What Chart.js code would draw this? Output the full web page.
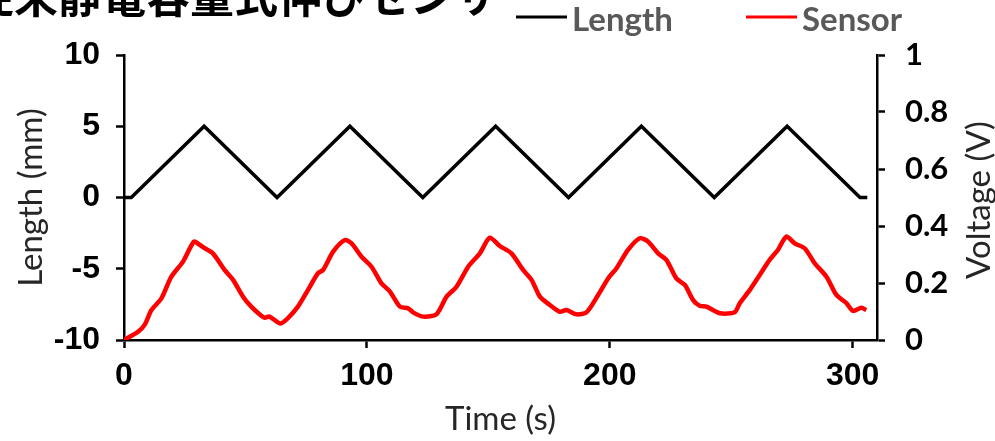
<!DOCTYPE html>
<html>
<head>
<meta charset="utf-8">
<script src="https://cdn.jsdelivr.net/npm/chart.js@4"></script>
<style>
  html, body { margin: 0; padding: 0; background: #fff; }
  #wrap { position: relative; width: 995px; height: 441px; }
</style>
</head>
<body>
<div id="wrap"><canvas id="sensorChart"></canvas></div>
<script>
// data
const chartTitle = "従来静電容量式伸びセンサ";
const timeTicks = [0, 100, 200, 300];
const lengthTicks = [-10, -5, 0, 5, 10];
const voltTicks = [0, 0.2, 0.4, 0.6, 0.8, 1];
const lengthTime = [0, 3, 33, 63, 93, 123, 153, 183, 213, 243, 273, 303, 306];
const lengthMm = [0, 0, 5, 0, 5, 0, 5, 0, 5, 0, 5, 0, 0];
const sensorTime = [
  0, 2, 5.8, 8.5, 11.3, 15.4, 19.5, 24.3, 28.8, 31, 33.2, 36.6, 41.4, 44.9, 49, 52.4,
  56.5, 58, 59.9, 64.3, 67.4, 71.6, 75.7, 79.8, 82, 86.1, 90.9, 93.7, 97.8, 101.9, 106,
  109.5, 113.6, 117, 119, 123.2, 128.6, 132.8, 136.9, 141.7, 146.5, 150.6, 154.7, 159.5,
  164.3, 167.8, 171.2, 175.3, 179.4, 182.2, 186.3, 190.4, 195.2, 199.3, 202.7, 207.5,
  212.3, 215.8, 219.9, 223.3, 227.4, 230.9, 234.3, 237, 239.8, 245.3, 251.4, 253.5,
  257.6, 261.7, 265.8, 269.2, 272.7, 276.1, 280.2, 284.4, 289.2, 293.3, 297.4, 300.1,
  303.6, 305.6
];
const sensorVolt = [
  0, 0.01, 0.029, 0.053, 0.105, 0.146, 0.222, 0.275, 0.345, 0.335, 0.322, 0.304, 0.246, 0.211, 0.152, 0.117,
  0.085, 0.078, 0.082, 0.058, 0.076, 0.117, 0.175, 0.234, 0.246, 0.31, 0.351, 0.339, 0.292, 0.257, 0.199,
  0.17, 0.117, 0.111, 0.097, 0.082, 0.09, 0.152, 0.187, 0.257, 0.304, 0.359, 0.33, 0.304,
  0.246, 0.211, 0.152, 0.123, 0.099, 0.105, 0.09, 0.097, 0.158, 0.216, 0.251, 0.316,
  0.357, 0.345, 0.304, 0.281, 0.216, 0.193, 0.14, 0.12, 0.117, 0.094, 0.097, 0.129,
  0.175, 0.228, 0.281, 0.316, 0.363, 0.339, 0.322, 0.269, 0.222, 0.158, 0.129, 0.102,
  0.113, 0.105
];

// title, legend and right axis title drawn by hand
const extrasPlugin = {
  id: 'extras',
  afterDraw(chart) {
    const ctx = chart.ctx;
    ctx.save();
    ctx.fillStyle = '#000';
    ctx.textAlign = 'left';
    ctx.textBaseline = 'alphabetic';
    ctx.font = 'bold 44px "Noto Sans CJK JP"';
    ctx.fillText(chartTitle, -30, 13);

    const items = [[516, 572], [746, 802]];
    chart.data.datasets.forEach((ds, i) => {
      const [lx, tx] = items[i];
      ctx.strokeStyle = ds.borderColor;
      ctx.lineWidth = 3;
      ctx.beginPath();
      ctx.moveTo(lx, 17);
      ctx.lineTo(lx + 51, 17);
      ctx.stroke();
      ctx.fillStyle = '#595959';
      ctx.font = 'bold 33px Lato';
      ctx.fillText(ds.label, tx, 31);
    });

    ctx.fillStyle = '#262626';
    ctx.font = '33px Lato';
    ctx.translate(979, 200);
    ctx.rotate(-Math.PI / 2);
    ctx.textAlign = 'center';
    ctx.textBaseline = 'middle';
    ctx.fillText('Voltage (V)', 0, 0);
    ctx.restore();
  }
};

const axisGrid = {
  drawOnChartArea: false,
  drawTicks: true,
  tickLength: 8,
  tickColor: '#000',
  tickWidth: 2.5
};
const axisBorder = { display: true, color: '#000', width: 2.5 };
const fixTicks = (values) => (scale) => {
  scale.ticks = values.map(v => ({ value: v }));
};
const plainLabel = (v) => String(Number(v.toFixed(2)));

const config = {
  type: 'line',
  data: {
    datasets: [{
      label: 'Length',
      data: lengthTime.map((t, i) => ({ x: t, y: lengthMm[i] })),
      borderColor: '#000000',
      borderWidth: 3.5,
      pointRadius: 0,
      tension: 0,
      yAxisID: 'y'
    }, {
      label: 'Sensor',
      data: sensorTime.map((t, i) => ({ x: t, y: sensorVolt[i] })),
      borderColor: '#ff0000',
      borderWidth: 4.5,
      pointRadius: 0,
      tension: 0.25,
      yAxisID: 'y1'
    }]
  },
  options: {
    responsive: true,
    maintainAspectRatio: false,
    animation: false,
    layout: { padding: { top: 55, left: 0, right: 0, bottom: 0 } },
    plugins: {
      legend: { display: false },
      tooltip: { enabled: false }
    },
    scales: {
      x: {
        type: 'linear',
        min: 0,
        max: 310,
        afterFit: (s) => { s.height = 101; },
        afterBuildTicks: fixTicks(timeTicks),
        ticks: {
          color: '#000',
          padding: 9,
          autoSkip: false,
          maxRotation: 0,
          callback: plainLabel,
          font: { family: '"Liberation Sans"', size: 32, weight: 'bold' }
        },
        grid: axisGrid,
        border: axisBorder,
        title: {
          display: true,
          text: 'Time (s)',
          color: '#262626',
          padding: { top: 0, bottom: 5 },
          font: { family: 'Lato', size: 33, lineHeight: 1 }
        }
      },
      y: {
        position: 'left',
        min: -10,
        max: 10,
        afterFit: (s) => { s.width = 124; },
        afterBuildTicks: fixTicks(lengthTicks),
        ticks: {
          color: '#000',
          padding: 16,
          autoSkip: false,
          callback: plainLabel,
          font: { family: '"Liberation Sans"', size: 32, weight: 'bold' }
        },
        grid: axisGrid,
        border: axisBorder,
        title: {
          display: true,
          text: 'Length (mm)',
          color: '#262626',
          padding: { top: 15, bottom: 0 },
          font: { family: 'Lato', size: 33, lineHeight: 1 }
        }
      },
      y1: {
        position: 'right',
        min: 0,
        max: 1,
        afterFit: (s) => { s.width = 118; },
        afterBuildTicks: fixTicks(voltTicks),
        ticks: {
          color: '#000',
          padding: 20,
          autoSkip: false,
          callback: plainLabel,
          font: { family: 'Lato', size: 31, weight: 'bold' }
        },
        grid: axisGrid,
        border: axisBorder
      }
    }
  },
  plugins: [extrasPlugin]
};

const sensorChart = new Chart(document.getElementById('sensorChart').getContext('2d'), config);
</script>
</body>
</html>
